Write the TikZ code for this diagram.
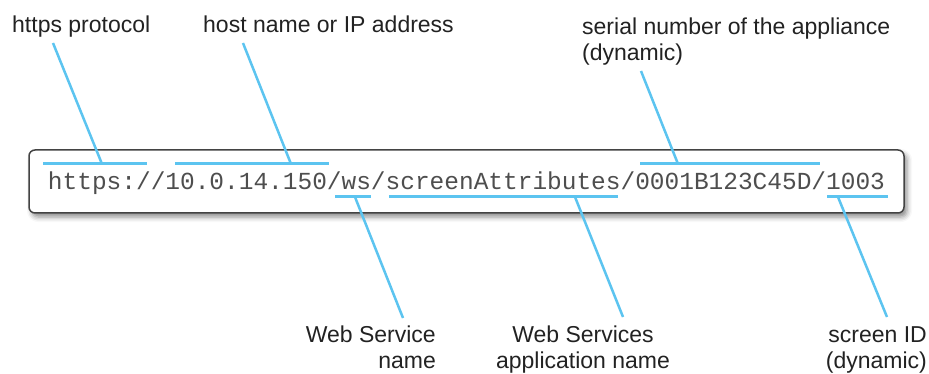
\documentclass[tikz,border=0pt]{standalone}
\usepackage{fontspec}
\setmainfont{Liberation Sans}
\newfontfamily\urlfont{Liberation Mono}
\usetikzlibrary{shadows.blur}
\definecolor{callout}{RGB}{92,196,240}
\definecolor{ink}{RGB}{34,34,34}
\begin{document}
\begin{tikzpicture}[x=1pt,y=-1pt,
	lbl/.style={inner sep=0pt,text=ink,font=\fontsize{23}{26}\selectfont},
	urlbox/.style={draw=ink!85,line width=1.5pt,rounded corners=6pt,fill=white,
		minimum width=875pt,minimum height=63pt,inner sep=0pt,text height=18pt,text depth=2pt,
		text=ink!80,font=\urlfont\fontsize{24.47}{28}\selectfont,
		blur shadow={shadow xshift=3pt,shadow yshift=-4pt,shadow blur radius=5pt,shadow opacity=45}},
	uline/.style={draw=callout,line width=3pt},
	leader/.style={draw=callout,line width=2.5pt}]
	\useasboundingbox (0,0) rectangle (929,374);
	\node[urlbox] (url) at (466.5,181.5) {https://10.0.14.150/ws/screenAttributes/0001B123C45D/1003};
	\node[lbl,anchor=base west] (proto) at (12,33) {https protocol};
	\node[lbl,anchor=base west] (host) at (203,33) {host name or IP address};
	\node[lbl,anchor=base west,align=left] (serial) at (582,61) {serial number of the appliance\\(dynamic)};
	\node[lbl,anchor=base east,align=right] (wsname) at (436,368) {Web Service\\name};
	\node[lbl,anchor=base,align=center] (appname) at (583,368) {Web Services\\application name};
	\node[lbl,anchor=base east,align=right] (scrid) at (927,368) {screen ID\\(dynamic)};
	\coordinate (protoTip) at (53,43);
	\coordinate (protoJoin) at (102,164);
	\coordinate (hostTip) at (243,43);
	\coordinate (hostJoin) at (291,164);
	\coordinate (serialTip) at (641,71);
	\coordinate (serialJoin) at (678,164);
	\coordinate (wsTip) at (403,318);
	\coordinate (wsJoin) at (355,197);
	\coordinate (appTip) at (623,317);
	\coordinate (appJoin) at (575,197);
	\coordinate (scrTip) at (887,317);
	\coordinate (scrJoin) at (838,197);
	\draw[uline] (43,164)--(147,164);
	\draw[uline] (175,164)--(329,164);
	\draw[uline] (640,164)--(820,164);
	\draw[uline] (335,197)--(371,197);
	\draw[uline] (389,197)--(618,197);
	\draw[uline] (827,197)--(888,197);
	\draw[leader] (protoJoin)--(protoTip);
	\draw[leader] (hostJoin)--(hostTip);
	\draw[leader] (serialJoin)--(serialTip);
	\draw[leader] (wsJoin)--(wsTip);
	\draw[leader] (appJoin)--(appTip);
	\draw[leader] (scrJoin)--(scrTip);
\end{tikzpicture}
\end{document}
